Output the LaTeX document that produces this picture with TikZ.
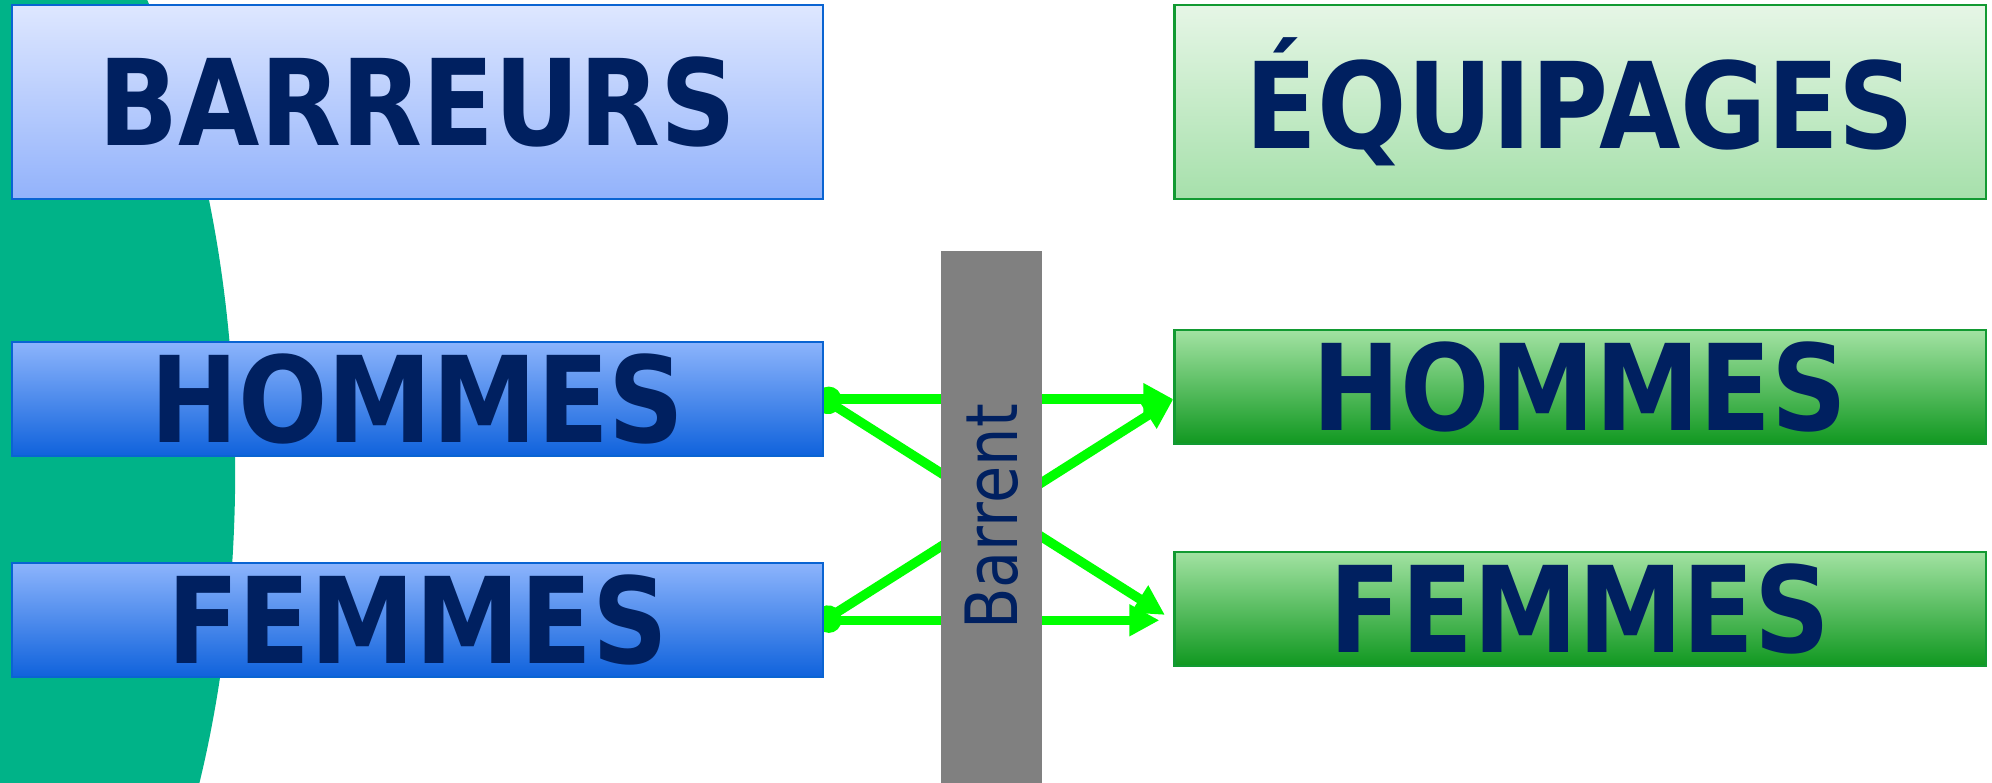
\documentclass[tikz,border=0pt]{standalone}
\usepackage{fontspec}
\usepackage{tikz}
\usetikzlibrary{arrows.meta,positioning,backgrounds}
\newfontfamily\titrefont[FakeStretch=0.88]{DejaVu Sans}
\newfontfamily\barfont[FakeStretch=0.84]{DejaVu Sans}
\definecolor{cteal}{HTML}{00B388}
\definecolor{ctexte}{HTML}{002060}
\definecolor{cvert}{HTML}{00FF00}
\definecolor{cgris}{HTML}{808080}
\definecolor{cbleutrait}{HTML}{0A64D2}
\definecolor{cverttrait}{HTML}{129A32}

\begin{document}
\begin{tikzpicture}[x=0.01cm,y=-0.01cm,
  fleche/.style={draw=cvert,line width=0.095cm,
    {Circle[length=0.25cm]}-{Triangle[length=0.3cm,width=0.3cm]},shorten <=-0.08cm},
  titre/.style={draw,line width=0.6pt,minimum width=8.11cm,text=ctext,
    font=\titrefont\bfseries\fontsize{34}{40}\selectfont},
  haut node/.style={titre,minimum height=1.94cm},
  bas node/.style={titre,minimum height=1.06cm},
  barreur haut/.style={haut node,draw=cbleutrait,top color={rgb,255:red,222;green,231;blue,255},
    bottom color={rgb,255:red,146;green,178;blue,251}},
  barreur node/.style={bas node,draw=cbleutrait,top color={rgb,255:red,140;green,180;blue,252},
    bottom color={rgb,255:red,15;green,98;blue,220}},
  equipage haut/.style={haut node,draw=cverttrait,top color={rgb,255:red,230;green,246;blue,230},
    bottom color={rgb,255:red,166;green,224;blue,171}},
  equipage node/.style={bas node,draw=cverttrait,top color={rgb,255:red,162;green,226;blue,162},
    bottom color={rgb,255:red,16;green,152;blue,32}}]
  \colorlet{ctext}{ctexte}
  \useasboundingbox (0,0) rectangle (1992,783);

  \node[barreur haut] (barreurs) at (417.5,102) {BARREURS};
  \node[equipage haut] (equipages) [node distance=11.62cm,right of=barreurs] {ÉQUIPAGES};
  \node[barreur node] (bhommes) [node distance=2.97cm,below of=barreurs] {HOMMES};
  \node[barreur node] (bfemmes) [node distance=2.21cm,below of=bhommes] {FEMMES};
  \node[equipage node] (ehommes) [node distance=2.85cm,below of=equipages] {HOMMES};
  \node[equipage node] (efemmes) [node distance=2.215cm,below of=ehommes] {FEMMES};
  \node[fill=cgris,rotate=90,minimum width=5.32cm,minimum height=1.01cm,
    text=ctexte,font=\barfont\fontsize{20.5}{24}\selectfont] (barrent) at (991.5,517) {Barrent};

  % fond et fleches derriere les cadres
  \begin{scope}[on background layer]
    \clip (0,0) rectangle (1992,783);
    \fill[cteal] (-105,470) ellipse [x radius=3.4cm,y radius=7cm];
  \end{scope}
  \begin{scope}[on background layer]
    \draw[fleche] (bhommes.east) -- (bhommes.east -| ehommes.west);
    \draw[fleche,shorten >=0.1cm] (bhommes.east) -- (efemmes.west |- bfemmes.east);
    \draw[fleche] (bfemmes.east) -- (bhommes.east -| ehommes.west);
    \draw[fleche,shorten >=0.14cm] (bfemmes.east) -- (efemmes.west |- bfemmes.east);
  \end{scope}
\end{tikzpicture}
\end{document}
